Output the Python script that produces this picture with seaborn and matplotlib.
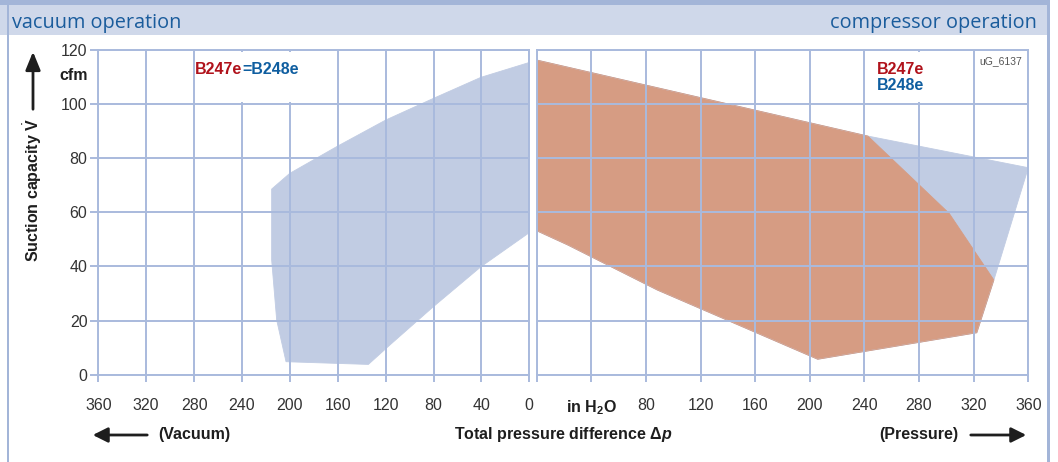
import matplotlib
matplotlib.use("Agg")
import matplotlib.pyplot as plt
import seaborn as sns
import pandas as pd
from matplotlib.patches import Rectangle, FancyArrowPatch

# ---------------- data ----------------
# vacuum operation envelope (B247e = B248e), x = vacuum in H2O, y = cfm
vac_x = [0, 40.4, 80.2, 120, 160, 200.1, 215.2, 215.2, 211, 203.2, 134.4, 116.4, 80.2, 40.4, 0]
vac_y = [115.4, 109.9, 102.1, 94.1, 84.5, 74.4, 68.6, 42.4, 20.2, 4.8, 3.8, 11.0, 25.1, 39.9, 52.5]

# compressor operation envelopes, x = pressure in H2O, y = cfm
b248_x = [0, 242.5, 360, 334.8, 322.3, 205.8, 88.3, 22.9, 0]
b248_y = [116.3, 88.2, 76.5, 35.0, 15.5, 5.7, 31.3, 47.9, 53.2]
b247_x = [0, 242.5, 302.1, 334.8, 322.3, 205.8, 88.3, 22.9, 0]
b247_y = [116.3, 88.2, 59.6, 35.0, 15.5, 5.7, 31.3, 47.9, 53.2]

y_ticks = [0, 20, 40, 60, 80, 100, 120]
vac_ticks = [360, 320, 280, 240, 200, 160, 120, 80, 40, 0]
vac_labels = ["360", "320", "280", "240", "200", "160", "120", "80", "40", "0"]
press_ticks = [0, 40, 80, 120, 160, 200, 240, 280, 320, 360]
press_labels = ["", r"in H$_\mathbf{2}$O", "80", "120", "160", "200", "240", "280", "320", "360"]

# ---------------- style ----------------
W, H = 1058, 462
GRID = "#a9badd"
BLUE_FILL = "#c1cce3"
SALMON = "#d69c83"
RED_TXT = "#b0121b"
BLUE_TXT = "#0f5ea0"
HEAD_TXT = "#1a5c9c"
DARK = "#1e1e1e"

sns.set_theme(style="white")
plt.rcParams["font.family"] = ["Liberation Sans", "DejaVu Sans"]
plt.rcParams["mathtext.fontset"] = "custom"
plt.rcParams["mathtext.rm"] = "Liberation Sans"
plt.rcParams["mathtext.bf"] = "Liberation Sans:bold"
plt.rcParams["mathtext.it"] = "Liberation Sans:italic:bold"

fig = plt.figure(figsize=(W / 100, H / 100), dpi=100)
fig.patch.set_facecolor("white")
TF = fig.transFigure


def fx(x):
    return x / W


def fy(y):
    return 1 - y / H


# header band and frame
fig.add_artist(Rectangle((0, fy(35)), fx(1048), 30 / H, transform=TF, facecolor="#cfd8ea", edgecolor="none", zorder=0))
fig.add_artist(Rectangle((0, fy(5)), fx(1050), 5 / H, transform=TF, facecolor="#a3b5d8", edgecolor="none", zorder=0))
fig.add_artist(Rectangle((fx(7), 0), 2 / W, 1, transform=TF, facecolor="#a3b5d8", edgecolor="none", zorder=0))
fig.add_artist(Rectangle((fx(1047), 0), 3 / W, 1, transform=TF, facecolor="#a3b5d8", edgecolor="none", zorder=0))
fig.text(fx(12), fy(28), "vacuum operation", family="Open Sans", fontsize=14.3, color=HEAD_TXT, ha="left", va="baseline")
fig.text(fx(1037), fy(28), "compressor operation", family="Open Sans", fontsize=14.3, color=HEAD_TXT, ha="right", va="baseline")

y0, y1 = fy(374.7), fy(50)
axL = fig.add_axes([fx(98.3), y0, fx(529.3) - fx(98.3), y1 - y0])
axR = fig.add_axes([fx(536.7), y0, fx(1028.3) - fx(536.7), y1 - y0])


def polygon(ax, xs, ys, color):
    df = pd.DataFrame({"x": list(xs) + [xs[0]], "y": list(ys) + [ys[0]]})
    ax.fill(df["x"], df["y"], color=color, lw=0, zorder=1)
    sns.lineplot(data=df, x="x", y="y", sort=False, estimator=None, ax=ax, color=color, lw=0.6, zorder=1.2)


polygon(axL, vac_x, vac_y, BLUE_FILL)
polygon(axR, b248_x, b248_y, BLUE_FILL)
polygon(axR, b247_x, b247_y, SALMON)

for ax in (axL, axR):
    ax.set_ylim(0, 120)
    ax.set_yticks(y_ticks)
    ax.set_axisbelow(False)
    ax.grid(True, color=GRID, lw=1.4)
    for s in ax.spines.values():
        s.set_visible(True)
        s.set_color(GRID)
        s.set_linewidth(1.4)
    ax.set_xlabel("")
    ax.set_ylabel("")
    ax.tick_params(axis="x", bottom=True, length=5, width=1.4, color=GRID, pad=12,
                   labelsize=11.5, labelcolor="#333333")

axL.set_xlim(360, 0)
axL.set_xticks(vac_ticks)
axL.set_xticklabels(vac_labels)
axL.tick_params(axis="y", left=True, length=5.8, width=1.4, color=GRID, pad=2,
                labelsize=11.5, labelcolor="#333333")

axR.set_xlim(0, 360)
axR.set_xticks(press_ticks)
axR.set_xticklabels(press_labels)
for lab in axR.get_xticklabels():
    if "H" in lab.get_text():
        lab.set_fontweight("bold")
        lab.set_color("#1e1e1e")
axR.tick_params(axis="y", left=False, labelleft=False)

# white boxes behind the model labels (hide grid segments)
axL.add_patch(Rectangle((185, 100.9), 85, 18.4, facecolor="white", edgecolor="none", zorder=2.7))
axR.add_patch(Rectangle((250, 100.9), 60, 18.4, facecolor="white", edgecolor="none", zorder=2.7))

# model labels
t1 = fig.text(fx(195), fy(70), "B247e", color=RED_TXT, fontsize=11.5, fontweight="bold", ha="left", va="center", zorder=5)
fig.texts.append(None) if False else None
axL.annotate("=B248e", xy=(1, 0), xycoords=t1, color=BLUE_TXT, fontsize=11.5, fontweight="bold",
             ha="left", va="bottom", annotation_clip=False, zorder=5)
fig.text(fx(877), fy(69), "B247e", color=RED_TXT, fontsize=11.5, fontweight="bold", ha="left", va="center", zorder=5)
fig.text(fx(877), fy(86), "B248e", color=BLUE_TXT, fontsize=11.5, fontweight="bold", ha="left", va="center", zorder=5)
fig.text(fx(1022), fy(61), "uG_6137", color="#555555", fontsize=7.5, ha="right", va="center", zorder=5)

# axis labels
fig.text(fx(88), fy(75), "cfm", fontsize=11.5, fontweight="bold", color=DARK, ha="right", va="center")
fig.text(fx(33), fy(190), r"Suction capacity $\dot{\mathbf{V}}$", fontsize=11.5, fontweight="bold", color=DARK,
         rotation=90, ha="center", va="center")
fig.add_artist(FancyArrowPatch((fx(33), fy(112)), (fx(33), fy(49)), transform=TF,
                               arrowstyle="-|>,head_length=1.1,head_width=0.45", mutation_scale=10,
                               lw=2, color=DARK))

fig.text(fx(563), fy(435), r"Total pressure difference Δ$p$", fontsize=11.5, fontweight="bold",
         color=DARK, ha="center", va="center")
fig.text(fx(158), fy(435), "(Vacuum)", fontsize=11.5, fontweight="bold", color=DARK, ha="left", va="center")
fig.text(fx(958), fy(435), "(Pressure)", fontsize=11.5, fontweight="bold", color=DARK, ha="right", va="center")
fig.add_artist(FancyArrowPatch((fx(150), fy(435)), (fx(90), fy(435)), transform=TF,
                               arrowstyle="-|>,head_length=0.9,head_width=0.45", mutation_scale=10,
                               lw=2, color=DARK))
fig.add_artist(FancyArrowPatch((fx(968), fy(435)), (fx(1029), fy(435)), transform=TF,
                               arrowstyle="-|>,head_length=0.9,head_width=0.45", mutation_scale=10,
                               lw=2, color=DARK))

fig.savefig("out.png", dpi=100)
